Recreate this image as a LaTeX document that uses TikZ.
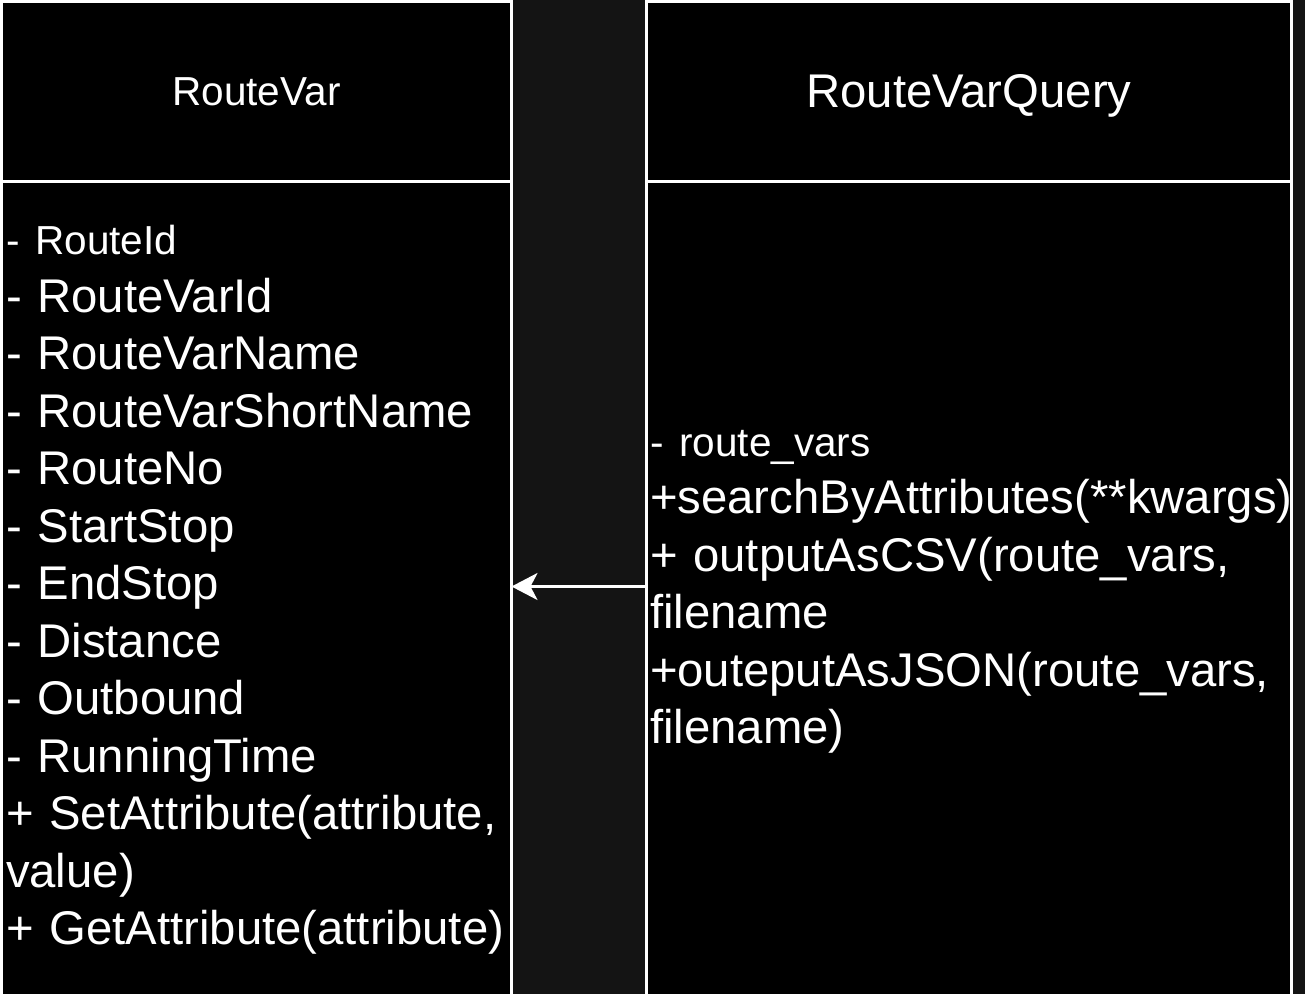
\documentclass[tikz,border=0pt]{standalone}
\usepackage{fontspec}
\setmainfont{Liberation Sans}
\usepackage{tikz}
\usetikzlibrary{arrows.meta}
\usetikzlibrary{positioning}
\definecolor{canvas}{HTML}{141414}

\tikzset{
  umlbox/.style={draw=white, fill=black, text=white, line width=3pt, outer sep=0pt},
  headbig/.style={umlbox, text depth=0pt, font=\fontsize{47.3}{57.5}\selectfont},
  headsmall/.style={umlbox, text depth=0pt, font=\fontsize{40.5}{48}\selectfont},
  members/.style={umlbox, align=left, inner ysep=0pt, font=\fontsize{47.3}{57.5}\selectfont},
  flow/.style={white, line width=2.5pt, -{Stealth[length=26pt, width=27pt, inset=7pt]}},
}
\newcommand{\smalltxt}[1]{{\fontsize{40.5}{57.5}\selectfont #1}}

\begin{document}
\begin{tikzpicture}[x=1pt, y=-1pt]
    \useasboundingbox (0,0) rectangle (1305,993);
    \fill[canvas] (-20,-20) rectangle (1325,1013);
    \node[headsmall, minimum width=510, minimum height=179.5] (rvhead) at (256.5,91.25) {RouteVar};
    \node[members, below=0pt of rvhead, minimum width=510, minimum height=818, text width=501, inner xsep=4.5] (rvbody) {\smalltxt{- RouteId}\\
      - RouteVarId\\
      - RouteVarName\\
      - RouteVarShortName\\
      - RouteNo\\
      - StartStop\\
      - EndStop\\
      - Distance\\
      - Outbound\\
      - RunningTime\\
      + SetAttribute(attribute,\\
      value)\\
      + GetAttribute(attribute)};
    \node[headbig, minimum width=645, minimum height=179.5] (qhead) at (969,91.25) {RouteVarQuery};
    \node[members, below=0pt of qhead, minimum width=645, minimum height=822, text width=638, inner xsep=3.5] (qbody) {\smalltxt{- route\_vars}\\
      \makebox[0pt][l]{+searchByAttributes(**kwargs)}\\
      + outputAsCSV(route\_vars,\\
      filename\\
      +outeputAsJSON(route\_vars,\\
      filename)};
    \draw [flow] ([yshift=5.5pt]qbody.west) -- ([yshift=5.5pt]qbody.west -| rvbody.east);
  \end{tikzpicture}
\end{document}
